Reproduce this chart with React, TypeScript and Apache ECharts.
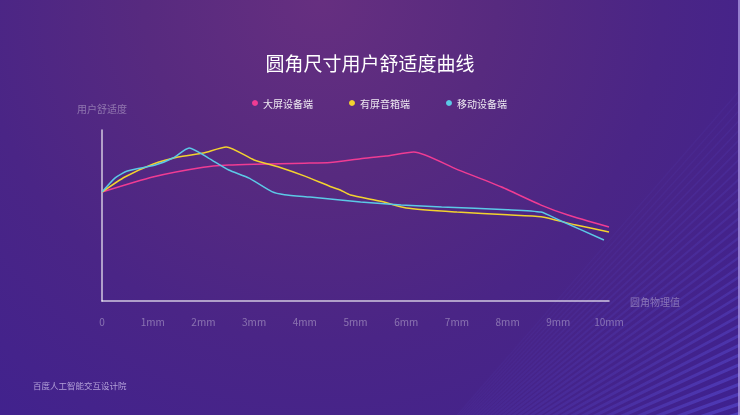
import React, { useRef, useEffect } from 'react';
import * as echarts from 'echarts';

const FONT = '"Noto Sans CJK SC", "Noto Sans", sans-serif';

const seriesNames = ['大屏设备端', '有屏音箱端', '移动设备端'];
const seriesColors = ['#f03c93', '#f3d22e', '#5cc9e6'];

// [圆角物理值 mm, 用户舒适度]
const bigScreen: [number, number][] = [
    [0, 63.7], [1, 72.5], [2, 78.2], [2.5, 79.5], [3, 80], [4, 80.6], [4.5, 81],
    [5.1, 83.2], [5.6, 84.8], [6.15, 87.1], [7, 77], [7.87, 66.8], [8.66, 56.1],
    [9.19, 50.3], [10, 43.3],
];
const speaker: [number, number][] = [
    [0, 63.7], [0.45, 72.5], [1, 80], [1.5, 84.2], [2, 86.5], [2.45, 90.1], [3, 82.5],
    [3.5, 78.2], [4, 73], [4.5, 67], [4.7, 64.9], [4.9, 62], [5.5, 58.3], [6, 54.4],
    [7, 52], [8, 50.4], [8.66, 49.3], [9.3, 44.8], [10, 40.4],
];
const mobile: [number, number][] = [
    [0, 63.7], [0.26, 72], [0.5, 76], [1.05, 79.5], [1.4, 83.6], [1.72, 89.5], [2.1, 83.6],
    [2.5, 76.6], [2.9, 71.9], [3.35, 64], [3.6, 62.2], [4.1, 60.8], [5.1, 57.9], [5.9, 56.1],
    [6.7, 55], [8, 53.4], [8.66, 52], [9, 47.5], [9.9, 35.7],
];
const seriesData = [bigScreen, speaker, mobile];

const xTicks = ['0', '1mm', '2mm', '3mm', '4mm', '5mm', '6mm', '7mm', '8mm', '9mm', '10mm'];

// decorative fan of stripes in the lower right corner, fading towards the top-left
function stripes() {
    const out: any[] = [];
    const n = 34;
    for (let i = 0; i < n; i++) {
        const t = i / (n - 1);
        const yR = 90 + i * 9.8;
        const s = 1.15 - t * 0.84;
        const len = 380;
        out.push({
            type: 'line',
            silent: true,
            shape: { x1: 740 - len, y1: yR + s * len, x2: 740, y2: yR },
            style: {
                lineWidth: 1.2 + t * 2.3,
                stroke: new echarts.graphic.LinearGradient(540, 250, 740, 415, [
                    { offset: 0, color: 'rgba(95,85,225,0)' },
                    { offset: 0.55, color: 'rgba(95,85,225,0.2)' },
                    { offset: 1, color: 'rgba(95,85,225,0.5)' },
                ], true),
            },
        });
    }
    return out;
}

export default function App() {
    const chartRef = useRef<HTMLDivElement>(null);

    useEffect(() => {
        if (!chartRef.current) return;
        const chart = echarts.init(chartRef.current, null, { renderer: 'svg' });

        const option: echarts.EChartsOption = {
            animation: false,
            backgroundColor: 'transparent',
            textStyle: { fontFamily: FONT },
            title: {
                text: '圆角尺寸用户舒适度曲线',
                left: 'center',
                top: 53,
                padding: 0,
                textStyle: { color: '#ffffff', fontSize: 19, fontWeight: 'normal', fontFamily: FONT },
            },
            legend: {
                data: seriesNames,
                left: 252,
                top: 98,
                padding: 0,
                icon: 'circle',
                itemWidth: 6,
                itemHeight: 6,
                itemGap: 36,
                itemStyle: { borderWidth: 0 },
                textStyle: { color: 'rgba(255,255,255,0.9)', fontSize: 10, fontFamily: FONT },
            },
            grid: { left: 102, right: 131, top: 130, bottom: 114 },
            xAxis: {
                type: 'value',
                min: 0,
                max: 10,
                interval: 1,
                name: '圆角物理值',
                nameGap: 21,
                nameTextStyle: { color: 'rgba(255,255,255,0.35)', fontSize: 10, fontFamily: FONT },
                axisLine: { show: true, lineStyle: { color: 'rgba(255,255,255,0.75)', width: 1.5 } },
                axisTick: { show: false },
                splitLine: { show: false },
                axisLabel: {
                    color: 'rgba(255,255,255,0.35)',
                    fontSize: 10,
                    margin: 15,
                    formatter: (v: number) => xTicks[Math.round(v)] ?? '',
                },
            },
            yAxis: {
                type: 'value',
                min: 0,
                max: 100,
                name: '用户舒适度',
                nameGap: 17,
                nameTextStyle: { color: 'rgba(255,255,255,0.35)', fontSize: 10, fontFamily: FONT },
                axisLine: { show: true, lineStyle: { color: 'rgba(255,255,255,0.75)', width: 1.5 } },
                axisTick: { show: false },
                axisLabel: { show: false },
                splitLine: { show: false },
            },
            series: seriesNames.map((name, i) => ({
                name,
                type: 'line',
                data: seriesData[i],
                smooth: 0.2,
                showSymbol: false,
                symbol: 'circle',
                color: seriesColors[i],
                lineStyle: { width: 1.5, color: seriesColors[i] },
            })),
            graphic: [
                ...stripes(),
                {
                    type: 'rect',
                    silent: true,
                    shape: { x: 738, y: 0, width: 2, height: 415 },
                    style: { fill: 'rgba(170,150,225,0.8)' },
                },
                {
                    type: 'text',
                    left: 33,
                    top: 381,
                    style: {
                        text: '百度人工智能交互设计院',
                        fill: 'rgba(205,190,235,0.8)',
                        fontSize: 8.5,
                        fontFamily: FONT,
                    },
                },
            ],
        };

        chart.setOption(option);

        return () => {
            chart.dispose();
        };
    }, []);

    return (
        <div
            ref={chartRef}
            style={{
                position: 'fixed',
                left: 0,
                top: 0,
                width: 740,
                height: 415,
                background:
                    'radial-gradient(circle farthest-corner at 320px 0px, #662f80 0%, #572a7f 30%, #4a2586 58%, #3e2190 100%)',
            }}
        />
    );
}
